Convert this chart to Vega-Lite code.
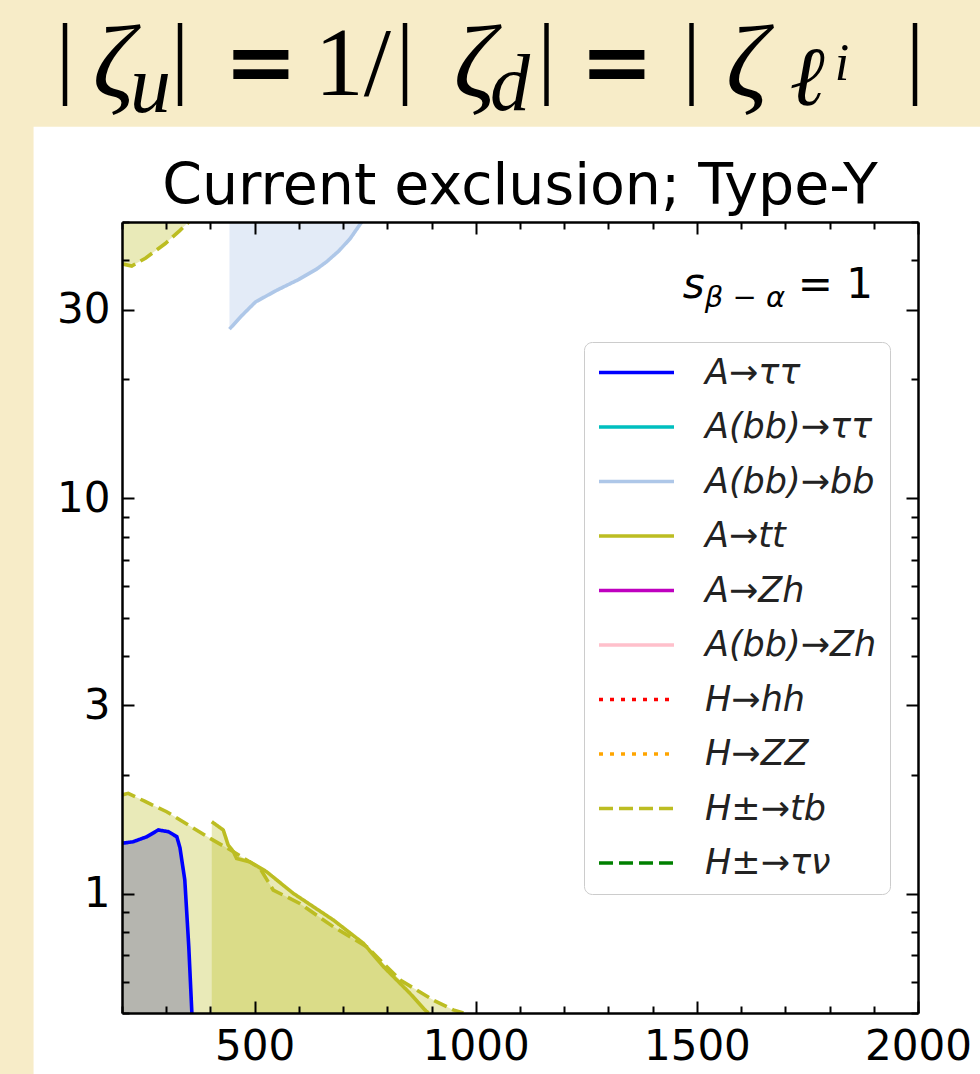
{
  "$schema": "https://vega.github.io/schema/vega-lite/v6.json",
  "width": 796,
  "height": 791,
  "autosize": {"type": "none"},
  "padding": {"left": 122, "top": 222, "right": 62, "bottom": 61},
  "background": "#f7ecc8",
  "config": {"view": {"stroke": null}},
  "datasets": {
    "curves": [
      {"process": "H±→tb", "seg": "top", "x": 200, "y": 39.2},
      {"process": "H±→tb", "seg": "top", "x": 222, "y": 38.7},
      {"process": "H±→tb", "seg": "top", "x": 253, "y": 40.5},
      {"process": "H±→tb", "seg": "top", "x": 298, "y": 44.1},
      {"process": "H±→tb", "seg": "top", "x": 330, "y": 47.5},
      {"process": "H±→tb", "seg": "top", "x": 351, "y": 50},
      {"process": "H±→tb", "seg": "low", "x": 200, "y": 1.78},
      {"process": "H±→tb", "seg": "low", "x": 214, "y": 1.796},
      {"process": "H±→tb", "seg": "low", "x": 250, "y": 1.718},
      {"process": "H±→tb", "seg": "low", "x": 301, "y": 1.614},
      {"process": "H±→tb", "seg": "low", "x": 350, "y": 1.494},
      {"process": "H±→tb", "seg": "low", "x": 399, "y": 1.382},
      {"process": "H±→tb", "seg": "low", "x": 452, "y": 1.279},
      {"process": "H±→tb", "seg": "low", "x": 512, "y": 1.161},
      {"process": "H±→tb", "seg": "low", "x": 542, "y": 1.023},
      {"process": "H±→tb", "seg": "low", "x": 602, "y": 0.946},
      {"process": "H±→tb", "seg": "low", "x": 678, "y": 0.826},
      {"process": "H±→tb", "seg": "low", "x": 753, "y": 0.736},
      {"process": "H±→tb", "seg": "low", "x": 829, "y": 0.606},
      {"process": "H±→tb", "seg": "low", "x": 904, "y": 0.539},
      {"process": "H±→tb", "seg": "low", "x": 949, "y": 0.509},
      {"process": "H±→tb", "seg": "low", "x": 972, "y": 0.5},
      {"process": "A→tt", "seg": "a", "x": 403, "y": 1.523},
      {"process": "A→tt", "seg": "a", "x": 429, "y": 1.451},
      {"process": "A→tt", "seg": "a", "x": 440, "y": 1.33},
      {"process": "A→tt", "seg": "a", "x": 452, "y": 1.279},
      {"process": "A→tt", "seg": "a", "x": 459, "y": 1.23},
      {"process": "A→tt", "seg": "a", "x": 489, "y": 1.206},
      {"process": "A→tt", "seg": "a", "x": 527, "y": 1.138},
      {"process": "A→tt", "seg": "a", "x": 587, "y": 1.004},
      {"process": "A→tt", "seg": "a", "x": 678, "y": 0.859},
      {"process": "A→tt", "seg": "a", "x": 746, "y": 0.75},
      {"process": "A→tt", "seg": "a", "x": 791, "y": 0.655},
      {"process": "A→tt", "seg": "a", "x": 851, "y": 0.561},
      {"process": "A→tt", "seg": "a", "x": 885, "y": 0.509},
      {"process": "A→tt", "seg": "a", "x": 893, "y": 0.5},
      {"process": "A→ττ", "seg": "a", "x": 200, "y": 1.343},
      {"process": "A→ττ", "seg": "a", "x": 225, "y": 1.355},
      {"process": "A→ττ", "seg": "a", "x": 256, "y": 1.395},
      {"process": "A→ττ", "seg": "a", "x": 282, "y": 1.451},
      {"process": "A→ττ", "seg": "a", "x": 305, "y": 1.437},
      {"process": "A→ττ", "seg": "a", "x": 324, "y": 1.395},
      {"process": "A→ττ", "seg": "a", "x": 331, "y": 1.31},
      {"process": "A→ττ", "seg": "a", "x": 342, "y": 1.085},
      {"process": "A→ττ", "seg": "a", "x": 351, "y": 0.736},
      {"process": "A→ττ", "seg": "a", "x": 358, "y": 0.5},
      {"process": "A(bb)→bb", "seg": "a", "x": 443, "y": 26.8},
      {"process": "A(bb)→bb", "seg": "a", "x": 471, "y": 29.0},
      {"process": "A(bb)→bb", "seg": "a", "x": 502, "y": 31.4},
      {"process": "A(bb)→bb", "seg": "a", "x": 550, "y": 33.6},
      {"process": "A(bb)→bb", "seg": "a", "x": 600, "y": 35.8},
      {"process": "A(bb)→bb", "seg": "a", "x": 640, "y": 38.0},
      {"process": "A(bb)→bb", "seg": "a", "x": 663, "y": 39.7},
      {"process": "A(bb)→bb", "seg": "a", "x": 690, "y": 42.2},
      {"process": "A(bb)→bb", "seg": "a", "x": 716, "y": 45.4},
      {"process": "A(bb)→bb", "seg": "a", "x": 742, "y": 50}
    ],
    "one": [{"k": 1}]
  },
  "resolve": {"axis": {"x": "independent", "y": "independent"}},
  "layer": [
    {
      "data": {"name": "one"},
      "mark": {"type": "rect", "color": "white"},
      "encoding": {
        "x": {"datum": 0, "type": "quantitative", "axis": null},
        "x2": {"datum": 2300},
        "y": {"datum": 87, "type": "quantitative", "axis": null, "scale": {"type": "log"}},
        "y2": {"datum": 0.3}
      }
    },
    {
      "data": {"name": "curves"},
      "transform": [{"filter": "datum.process === 'H±→tb' && datum.seg === 'low'"}],
      "mark": {"type": "area", "color": "#bcbd22", "opacity": 0.32, "clip": true},
      "encoding": {
        "x": {
          "field": "x", "type": "quantitative",
          "scale": {"domain": [200, 2000], "nice": false, "zero": false},
          "axis": {
            "orient": "bottom", "title": null, "grid": false, "zindex": 1,
            "values": [200, 300, 400, 500, 600, 700, 800, 900, 1000, 1100, 1200, 1300, 1400, 1500, 1600, 1700, 1800, 1900, 2000],
            "labelExpr": "datum.value % 500 === 0 ? format(datum.value, 'd') : ''",
            "tickSize": {"condition": {"test": "datum.value % 500 === 0", "value": -12}, "value": -7},
            "tickColor": "black", "tickWidth": 2,
            "domainColor": "black", "domainWidth": 2.5,
            "labelFont": "DejaVu Sans", "labelFontSize": 42, "labelColor": "black",
            "labelPadding": 25, "labelFlush": false, "labelOverlap": false, "labelBound": false
          }
        },
        "y": {
          "field": "y", "type": "quantitative",
          "scale": {"type": "log", "domain": [0.5, 50], "nice": false},
          "axis": {
            "orient": "left", "title": null, "grid": false, "zindex": 1,
            "values": [0.5, 0.6, 0.7, 0.8, 0.9, 1, 2, 3, 4, 5, 6, 7, 8, 9, 10, 20, 30, 40, 50],
            "labelExpr": "indexof([1, 3, 10, 30], datum.value) >= 0 ? format(datum.value, 'd') : ''",
            "tickSize": {"condition": {"test": "indexof([1, 3, 10, 30], datum.value) >= 0", "value": -12}, "value": -7},
            "tickColor": "black", "tickWidth": 2,
            "domainColor": "black", "domainWidth": 2.5,
            "labelFont": "DejaVu Sans", "labelFontSize": 42, "labelColor": "black",
            "labelPadding": 24, "labelFlush": false, "labelOverlap": false, "labelBound": false
          }
        },
        "y2": {"datum": 0.5}
      }
    },
    {
      "data": {"name": "curves"},
      "transform": [{"filter": "datum.process === 'H±→tb' && datum.seg === 'top'"}],
      "mark": {"type": "area", "color": "#bcbd22", "opacity": 0.32, "clip": true},
      "encoding": {
        "x": {"field": "x", "type": "quantitative", "axis": null},
        "y": {"field": "y", "type": "quantitative", "axis": null, "scale": {"type": "log"}},
        "y2": {"datum": 50}
      }
    },
    {
      "data": {"name": "curves"},
      "transform": [{"filter": "datum.process === 'A→tt'"}],
      "mark": {"type": "area", "color": "#bcbd22", "opacity": 0.32, "clip": true},
      "encoding": {
        "x": {
          "field": "x", "type": "quantitative",
          "axis": {
            "orient": "top", "title": null, "grid": false, "zindex": 1, "labels": false,
            "values": [200, 300, 400, 500, 600, 700, 800, 900, 1000, 1100, 1200, 1300, 1400, 1500, 1600, 1700, 1800, 1900, 2000],
            "tickSize": {"condition": {"test": "datum.value % 500 === 0", "value": -12}, "value": -7},
            "tickColor": "black", "tickWidth": 2,
            "domainColor": "black", "domainWidth": 2.5
          }
        },
        "y": {
          "field": "y", "type": "quantitative", "scale": {"type": "log"},
          "axis": {
            "orient": "right", "title": null, "grid": false, "zindex": 1, "labels": false,
            "values": [0.5, 0.6, 0.7, 0.8, 0.9, 1, 2, 3, 4, 5, 6, 7, 8, 9, 10, 20, 30, 40, 50],
            "tickSize": {"condition": {"test": "indexof([1, 3, 10, 30], datum.value) >= 0", "value": -12}, "value": -7},
            "tickColor": "black", "tickWidth": 2,
            "domainColor": "black", "domainWidth": 2.5
          }
        },
        "y2": {"datum": 0.5}
      }
    },
    {
      "data": {"name": "curves"},
      "transform": [{"filter": "datum.process === 'A→ττ'"}],
      "mark": {"type": "area", "color": "#b5b5af", "opacity": 1, "clip": true},
      "encoding": {
        "x": {"field": "x", "type": "quantitative", "axis": null},
        "y": {"field": "y", "type": "quantitative", "axis": null, "scale": {"type": "log"}},
        "y2": {"datum": 0.5}
      }
    },
    {
      "data": {"name": "curves"},
      "transform": [{"filter": "datum.process === 'A(bb)→bb'"}],
      "mark": {"type": "area", "color": "#aec7e8", "opacity": 0.35, "clip": true},
      "encoding": {
        "x": {"field": "x", "type": "quantitative", "axis": null},
        "y": {"field": "y", "type": "quantitative", "axis": null, "scale": {"type": "log"}},
        "y2": {"datum": 50}
      }
    },
    {
      "data": {"name": "curves"},
      "mark": {"type": "line", "strokeWidth": 3.6, "clip": true},
      "encoding": {
        "x": {"field": "x", "type": "quantitative", "axis": null},
        "y": {"field": "y", "type": "quantitative", "axis": null, "scale": {"type": "log"}},
        "detail": {"field": "seg"},
        "color": {
          "field": "process", "type": "nominal",
          "scale": {
            "domain": ["A→ττ", "A(bb)→ττ", "A(bb)→bb", "A→tt", "A→Zh", "A(bb)→Zh", "H→hh", "H→ZZ", "H±→tb", "H±→τν"],
            "range": ["#0000ff", "#00bfbf", "#aec7e8", "#bcbd22", "#bf00bf", "#ffc0cb", "#ff0000", "#ffa500", "#bcbd22", "#008000"]
          },
          "legend": {
            "orient": "none", "legendX": 462, "legendY": 120, "title": null,
            "symbolType": "stroke", "symbolSize": 5625, "symbolStrokeWidth": 3.6,
            "labelFont": "DejaVu Sans", "labelFontSize": 35, "labelFontStyle": "italic", "labelColor": "#222222",
            "labelOffset": 29, "clipHeight": 35, "rowPadding": 18.5, "padding": 13,
            "strokeColor": "#cccccc", "fillColor": "white", "cornerRadius": 8, "labelLimit": 400
          }
        },
        "strokeDash": {
          "field": "process", "type": "nominal",
          "scale": {
            "domain": ["A→ττ", "A(bb)→ττ", "A(bb)→bb", "A→tt", "A→Zh", "A(bb)→Zh", "H→hh", "H→ZZ", "H±→tb", "H±→τν"],
            "range": [[1, 0], [1, 0], [1, 0], [1, 0], [1, 0], [1, 0], [4, 7], [4, 7], [14, 6], [14, 6]]
          },
          "legend": {
            "orient": "none", "legendX": 462, "legendY": 120, "title": null,
            "symbolType": "stroke", "symbolSize": 5625, "symbolStrokeWidth": 3.6,
            "labelFont": "DejaVu Sans", "labelFontSize": 35, "labelFontStyle": "italic", "labelColor": "#222222",
            "labelOffset": 29, "clipHeight": 35, "rowPadding": 18.5, "padding": 13,
            "strokeColor": "#cccccc", "fillColor": "white", "cornerRadius": 8, "labelLimit": 400
          }
        }
      }
    },
    {
      "data": {"name": "one"},
      "mark": {"type": "text", "align": "center", "baseline": "alphabetic", "font": "DejaVu Sans", "fontSize": 57, "color": "black"},
      "encoding": {
        "x": {"datum": 1100, "type": "quantitative", "axis": null},
        "y": {"datum": 55.6, "type": "quantitative", "axis": null, "scale": {"type": "log"}},
        "text": {"value": "Current exclusion; Type-Y"}
      }
    },
    {
      "data": {"name": "one"},
      "mark": {"type": "text", "align": "left", "baseline": "alphabetic", "font": "DejaVu Sans", "fontSize": 42, "fontStyle": "italic", "color": "black"},
      "encoding": {
        "x": {"datum": 1468, "type": "quantitative", "axis": null},
        "y": {"datum": 32.1, "type": "quantitative", "axis": null, "scale": {"type": "log"}},
        "text": {"value": "s"}
      }
    },
    {
      "data": {"name": "one"},
      "mark": {"type": "text", "align": "left", "baseline": "alphabetic", "font": "DejaVu Sans", "fontSize": 29, "fontStyle": "italic", "color": "black"},
      "encoding": {
        "x": {"datum": 1518, "type": "quantitative", "axis": null},
        "y": {"datum": 30.5, "type": "quantitative", "axis": null, "scale": {"type": "log"}},
        "text": {"value": "β − α"}
      }
    },
    {
      "data": {"name": "one"},
      "mark": {"type": "text", "align": "left", "baseline": "alphabetic", "font": "DejaVu Sans", "fontSize": 42, "color": "black"},
      "encoding": {
        "x": {"datum": 1728, "type": "quantitative", "axis": null},
        "y": {"datum": 32.1, "type": "quantitative", "axis": null, "scale": {"type": "log"}},
        "text": {"value": "= 1"}
      }
    },
    {
      "data": {"name": "one"},
      "mark": {"type": "text", "align": "center", "baseline": "alphabetic", "font": "Liberation Serif", "fontSize": 90, "color": "black"},
      "encoding": {
        "x": {"datum": 71, "type": "quantitative", "axis": null},
        "y": {"datum": 109.7, "type": "quantitative", "axis": null, "scale": {"type": "log"}},
        "text": {"value": "|"}
      }
    },
    {
      "data": {"name": "one"},
      "mark": {"type": "text", "align": "left", "baseline": "alphabetic", "font": "Liberation Serif", "fontSize": 104, "fontStyle": "italic", "color": "black"},
      "encoding": {
        "x": {"datum": 134, "type": "quantitative", "axis": null},
        "y": {"datum": 103.5, "type": "quantitative", "axis": null, "scale": {"type": "log"}},
        "text": {"value": "ζ"}
      }
    },
    {
      "data": {"name": "one"},
      "mark": {"type": "text", "align": "left", "baseline": "alphabetic", "font": "Liberation Serif", "fontSize": 82, "fontStyle": "italic", "color": "black"},
      "encoding": {
        "x": {"datum": 218, "type": "quantitative", "axis": null},
        "y": {"datum": 95, "type": "quantitative", "axis": null, "scale": {"type": "log"}},
        "text": {"value": "u"}
      }
    },
    {
      "data": {"name": "one"},
      "mark": {"type": "text", "align": "center", "baseline": "alphabetic", "font": "Liberation Serif", "fontSize": 90, "color": "black"},
      "encoding": {
        "x": {"datum": 331, "type": "quantitative", "axis": null},
        "y": {"datum": 109.7, "type": "quantitative", "axis": null, "scale": {"type": "log"}},
        "text": {"value": "|"}
      }
    },
    {
      "data": {"name": "one"},
      "mark": {"type": "text", "align": "center", "baseline": "alphabetic", "font": "DejaVu Serif", "fontSize": 88, "fontWeight": "bold", "color": "black"},
      "encoding": {
        "x": {"datum": 514, "type": "quantitative", "axis": null},
        "y": {"datum": 106.6, "type": "quantitative", "axis": null, "scale": {"type": "log"}},
        "text": {"value": "="}
      }
    },
    {
      "data": {"name": "one"},
      "mark": {"type": "text", "align": "left", "baseline": "alphabetic", "font": "Liberation Serif", "fontSize": 98, "color": "black"},
      "encoding": {
        "x": {"datum": 636, "type": "quantitative", "axis": null},
        "y": {"datum": 104.8, "type": "quantitative", "axis": null, "scale": {"type": "log"}},
        "text": {"value": "1/"}
      }
    },
    {
      "data": {"name": "one"},
      "mark": {"type": "text", "align": "center", "baseline": "alphabetic", "font": "Liberation Serif", "fontSize": 90, "color": "black"},
      "encoding": {
        "x": {"datum": 840, "type": "quantitative", "axis": null},
        "y": {"datum": 109.7, "type": "quantitative", "axis": null, "scale": {"type": "log"}},
        "text": {"value": "|"}
      }
    },
    {
      "data": {"name": "one"},
      "mark": {"type": "text", "align": "left", "baseline": "alphabetic", "font": "Liberation Serif", "fontSize": 104, "fontStyle": "italic", "color": "black"},
      "encoding": {
        "x": {"datum": 950, "type": "quantitative", "axis": null},
        "y": {"datum": 103.5, "type": "quantitative", "axis": null, "scale": {"type": "log"}},
        "text": {"value": "ζ"}
      }
    },
    {
      "data": {"name": "one"},
      "mark": {"type": "text", "align": "left", "baseline": "alphabetic", "font": "Liberation Serif", "fontSize": 80, "fontStyle": "italic", "color": "black"},
      "encoding": {
        "x": {"datum": 1032, "type": "quantitative", "axis": null},
        "y": {"datum": 96, "type": "quantitative", "axis": null, "scale": {"type": "log"}},
        "text": {"value": "d"}
      }
    },
    {
      "data": {"name": "one"},
      "mark": {"type": "text", "align": "center", "baseline": "alphabetic", "font": "Liberation Serif", "fontSize": 90, "color": "black"},
      "encoding": {
        "x": {"datum": 1160, "type": "quantitative", "axis": null},
        "y": {"datum": 109.7, "type": "quantitative", "axis": null, "scale": {"type": "log"}},
        "text": {"value": "|"}
      }
    },
    {
      "data": {"name": "one"},
      "mark": {"type": "text", "align": "center", "baseline": "alphabetic", "font": "DejaVu Serif", "fontSize": 88, "fontWeight": "bold", "color": "black"},
      "encoding": {
        "x": {"datum": 1319, "type": "quantitative", "axis": null},
        "y": {"datum": 106.6, "type": "quantitative", "axis": null, "scale": {"type": "log"}},
        "text": {"value": "="}
      }
    },
    {
      "data": {"name": "one"},
      "mark": {"type": "text", "align": "center", "baseline": "alphabetic", "font": "Liberation Serif", "fontSize": 90, "color": "black"},
      "encoding": {
        "x": {"datum": 1488, "type": "quantitative", "axis": null},
        "y": {"datum": 109.7, "type": "quantitative", "axis": null, "scale": {"type": "log"}},
        "text": {"value": "|"}
      }
    },
    {
      "data": {"name": "one"},
      "mark": {"type": "text", "align": "left", "baseline": "alphabetic", "font": "Liberation Serif", "fontSize": 104, "fontStyle": "italic", "color": "black"},
      "encoding": {
        "x": {"datum": 1566, "type": "quantitative", "axis": null},
        "y": {"datum": 103.5, "type": "quantitative", "axis": null, "scale": {"type": "log"}},
        "text": {"value": "ζ"}
      }
    },
    {
      "data": {"name": "one"},
      "mark": {"type": "text", "align": "left", "baseline": "alphabetic", "font": "Liberation Serif", "fontSize": 84, "fontStyle": "italic", "color": "black"},
      "encoding": {
        "x": {"datum": 1710, "type": "quantitative", "axis": null},
        "y": {"datum": 98.8, "type": "quantitative", "axis": null, "scale": {"type": "log"}},
        "text": {"value": "ℓ"}
      }
    },
    {
      "data": {"name": "one"},
      "mark": {"type": "text", "align": "left", "baseline": "alphabetic", "font": "Liberation Serif", "fontSize": 52, "fontStyle": "italic", "color": "black"},
      "encoding": {
        "x": {"datum": 1812, "type": "quantitative", "axis": null},
        "y": {"datum": 114.3, "type": "quantitative", "axis": null, "scale": {"type": "log"}},
        "text": {"value": "i"}
      }
    },
    {
      "data": {"name": "one"},
      "mark": {"type": "text", "align": "center", "baseline": "alphabetic", "font": "Liberation Serif", "fontSize": 90, "color": "black"},
      "encoding": {
        "x": {"datum": 1993, "type": "quantitative", "axis": null},
        "y": {"datum": 109.7, "type": "quantitative", "axis": null, "scale": {"type": "log"}},
        "text": {"value": "|"}
      }
    }
  ]
}
